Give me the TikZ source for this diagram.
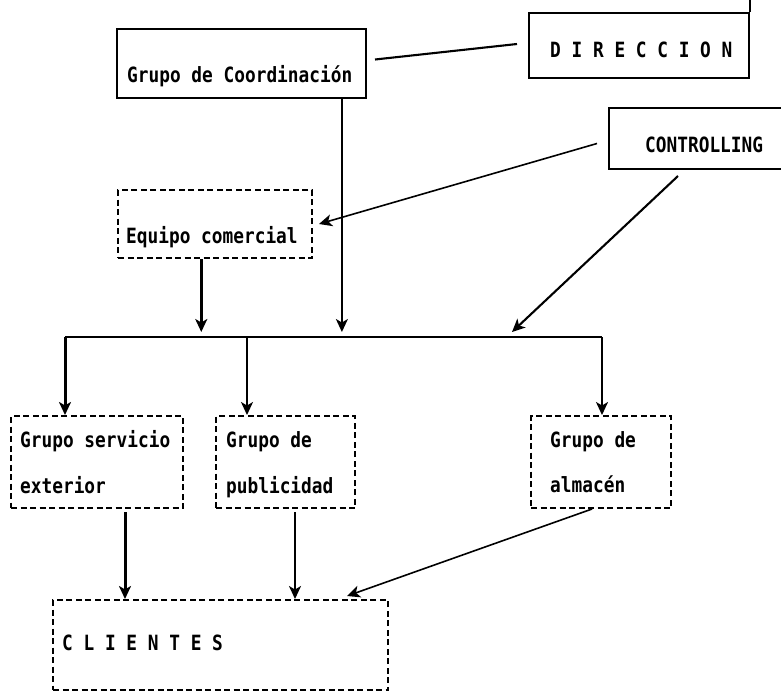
\documentclass[tikz,border=0pt]{standalone}
\usepackage{fontspec}
\usepackage{graphicx}
\usetikzlibrary{arrows.meta,calc}
\newfontfamily\dotfont{DejaVu Sans Mono}
% printer-like lettering: monospaced, slightly stretched upward
\newcommand{\dm}[1]{\scalebox{1}[1.18]{#1}}

\begin{document}
\begin{tikzpicture}[x=1pt,y=-1pt,
  box/.style={draw, line width=2pt, inner sep=0pt, anchor=north west},
  dbox/.style={box, dash pattern=on 6pt off 3.5pt},
  lbl/.style={anchor=base west, inner sep=0pt,
    font=\dotfont\bfseries\fontsize{17.8}{20}\selectfont},
  arr/.style={-{Stealth[length=13pt,width=12pt,inset=3.5pt]}},
  thin line/.style={line width=1.6pt},
  mid line/.style={line width=2.1pt},
  thick line/.style={line width=3pt}]

\useasboundingbox (0,0) rectangle (781,691);
\fill[white] (0,0) rectangle (781,691);
\clip (0,0) rectangle (781,691);

% boxes
\node[box, minimum width=249pt, minimum height=69pt] (coord) at (116,28) {};
\node[box, minimum width=220pt, minimum height=65pt] (dir) at (528,12) {};
\draw[line width=2pt] (dir.north east) -- ++(0,-14);
\node[box, minimum width=200pt, minimum height=61pt] (ctrl) at (608,107) {};
\node[dbox, minimum width=194pt, minimum height=68pt] (equipo) at (117,189) {};
\node[dbox, minimum width=172pt, minimum height=92pt] (serv) at (10,415) {};
\node[dbox, minimum width=139pt, minimum height=92pt] (pub) at (215,415) {};
\node[dbox, minimum width=140pt, minimum height=92pt] (alm) at (530,415) {};
\node[dbox, minimum width=335pt, minimum height=90pt] (cli) at (52,599) {};

% labels
\node[lbl] (coordT) at (127,82) {\dm{Grupo de Coordinación}};
\node[lbl] (dirT) at (550,57) {\dm{D I R E C C I O N}};
\node[lbl] (ctrlT) at (645,152) {\dm{CONTROLLING}};
\node[lbl] (equipoT) at (126,243) {\dm{Equipo comercial}};
\node[lbl] (servT1) at (20,447) {\dm{Grupo servicio}};
\node[lbl] (servT2) at (20,493) {\dm{exterior}};
\node[lbl] (pubT1) at (226,447) {\dm{Grupo de}};
\node[lbl] (pubT2) at (226,493) {\dm{publicidad}};
\node[lbl] (almT1) at (550,447) {\dm{Grupo de}};
\node[lbl] (almT2) at (550,492) {\dm{almacén}};
\node[lbl] (cliT) at (62,650) {\dm{C L I E N T E S}};

% link between coordination group and management
\draw[mid line] ($(coord.east)+(8,-4)$) -- ($(dir.west)+(-11,-1.5)$);

% distribution bus
\coordinate (busL) at (65,337);
\coordinate (busM) at (247,337);
\coordinate (busR) at (602,337);
\coordinate (ctrlTip) at (512,332);
\draw[mid line] (busL) -- (busR);

% feeds into the bus
\coordinate (eqOut) at ($(equipo.south west)!0.43!(equipo.south east)$);
\coordinate (coOut) at ($(coord.south west)!0.9!(coord.south east)$);
\draw[arr, thick line, shorten >=5pt] (eqOut) -- (eqOut |- busL);
\draw[arr, thin line, shorten >=5pt] (coOut) -- (coOut |- busL);
\draw[arr, mid line] ($(ctrl.south west)+(70,6)$) -- (ctrlTip);
\draw[arr, thin line] ($(ctrl.west)+(-11,5)$) -- ($(equipo.east)+(6,0)$);

% drops to the groups
\draw[arr, thick line] (busL) -- (busL |- serv.north);
\draw[arr, thin line] (busM) -- (busM |- pub.north);
\draw[arr, mid line] (busR) -- (busR |- alm.north);

% groups to clients
\coordinate (sOut) at ($(serv.south west)+(115,3)$);
\coordinate (pOut) at ($(pub.south west)+(80,3)$);
\draw[arr, thick line] (sOut) -- (sOut |- cli.north);
\draw[arr, mid line] (pOut) -- (pOut |- cli.north);
\draw[arr, thin line] ($(alm.south west)+(62,0)$) -- ($(cli.north west)+(295,-3)$);
\end{tikzpicture}
\end{document}
